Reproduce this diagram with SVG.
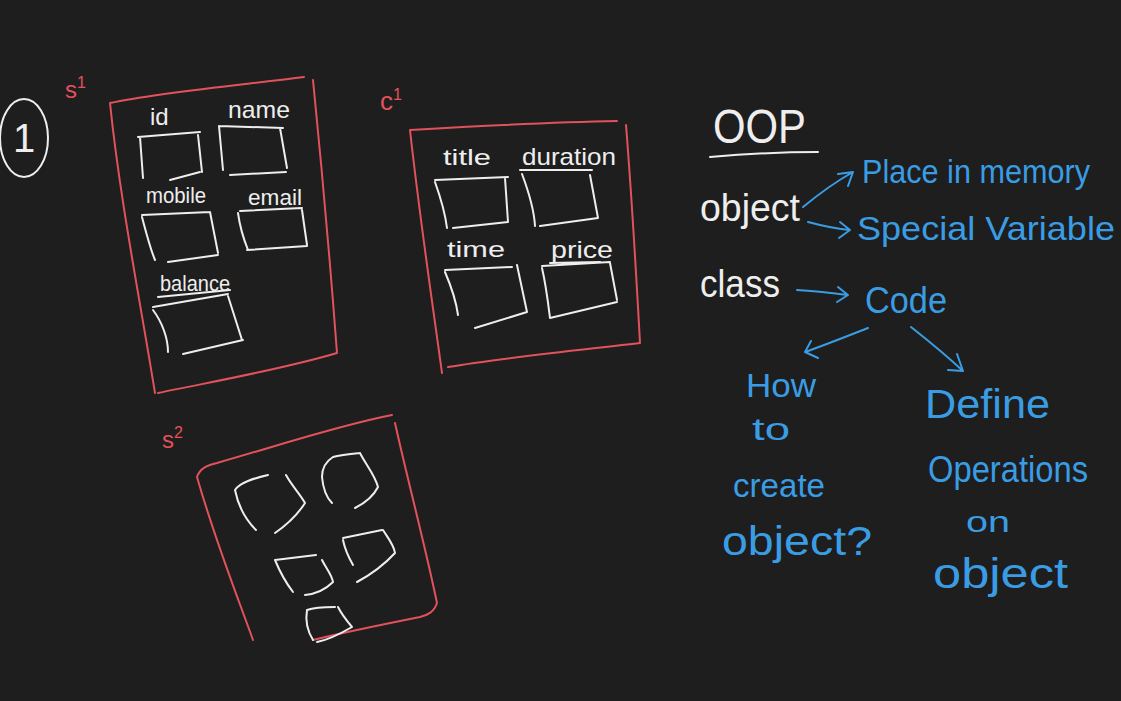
<svg xmlns="http://www.w3.org/2000/svg" width="1121" height="701" viewBox="0 0 1121 701">
<style>
.w{fill:none;stroke:#eeeeee;stroke-width:2;stroke-linecap:round;stroke-linejoin:round}
.r{fill:none;stroke:#e2525c;stroke-width:2;stroke-linecap:round;stroke-linejoin:round}
.b{fill:none;stroke:#3a9de4;stroke-width:2;stroke-linecap:round;stroke-linejoin:round}
.tw{fill:#eeeeee;font-family:"Liberation Sans",Arial,sans-serif}
.tr{fill:#e2525c;font-family:"Liberation Sans",Arial,sans-serif}
.tb{fill:#3a9de4;font-family:"Liberation Sans",Arial,sans-serif}
</style>
<rect width="1121" height="701" fill="#1e1e1e"/>

<g id="mark-1">
<ellipse class="w" cx="24" cy="138" rx="24" ry="39"/>
<text class="tw" x="24" y="152" font-size="40" text-anchor="middle">1</text>
</g>

<g id="s1">
<text class="tr" x="65" y="98" font-size="24">s<tspan font-size="16" dy="-10">1</tspan></text>
<path class="r" d="M110,103 C160,92 250,84 304,77 M313,80 C322,170 330,260 337,353 C280,370 210,382 158,393 M110,103 C120,200 140,300 155,393"/>
<text class="tw" x="150" y="125" font-size="24">id</text>
<path class="w" d="M138,137 L200,132 M140,137 L143,178 M198,135 L202,172 M170,180 L200,172"/>
<text class="tw" x="228" y="118" font-size="24" textLength="62" lengthAdjust="spacingAndGlyphs">name</text>
<path class="w" d="M219,126 L283,128 M219,126 L223,170 M280,128 L287,168 M230,175 L286,172"/>
<text class="tw" x="146" y="203" font-size="22" textLength="60" lengthAdjust="spacingAndGlyphs">mobile</text>
<path class="w" d="M142,215 L210,212 M142,217 C146,232 150,248 155,260 M210,212 L218,253 M168,262 L218,255"/>
<text class="tw" x="248" y="205" font-size="22" textLength="54" lengthAdjust="spacingAndGlyphs">email</text>
<path class="w" d="M240,211 L302,208 M238,213 C240,228 244,240 248,250 M302,210 L307,245 M247,250 L307,246"/>
<text class="tw" x="160" y="291" font-size="22" textLength="70" lengthAdjust="spacingAndGlyphs">balance</text>
<path class="w" d="M158,297 L230,290 M153,307 L228,294 M153,310 C162,322 168,338 168,352 M228,296 L242,340 M183,354 L243,340"/>
</g>

<g id="c1">
<text class="tr" x="380" y="110" font-size="26">c<tspan font-size="16" dy="-10">1</tspan></text>
<path class="r" d="M410,130 C480,126 560,122 617,121 M626,125 C632,200 636,270 640,343 C580,350 500,358 448,367 M410,130 C420,220 432,300 442,373"/>
<text class="tw" x="443" y="165" font-size="22" textLength="48" lengthAdjust="spacingAndGlyphs">title</text>
<path class="w" d="M435,180 L508,177 M435,182 C440,196 445,212 447,228 M505,178 L508,222 M453,228 L508,222"/>
<text class="tw" x="522" y="165" font-size="24" textLength="94" lengthAdjust="spacingAndGlyphs">duration</text>
<path class="w" d="M520,170 L592,170 M522,174 C528,190 534,208 535,226 M590,175 L598,218 M540,226 L598,218"/>
<text class="tw" x="447" y="257" font-size="22" textLength="58" lengthAdjust="spacingAndGlyphs">time</text>
<path class="w" d="M445,270 L512,267 M445,272 C451,286 456,300 458,315 M517,265 L527,312 M475,328 L527,312"/>
<text class="tw" x="551" y="258" font-size="24" textLength="62" lengthAdjust="spacingAndGlyphs">price</text>
<path class="w" d="M550,263 L600,262 M542,266 L610,262 M542,268 C546,285 548,302 550,318 M610,263 L617,300 M550,318 L617,302"/>
</g>

<g id="s2">
<text class="tr" x="162" y="448" font-size="24">s<tspan font-size="16" dy="-10">2</tspan></text>
<path class="r" d="M197,477 C200,468 208,465 217,463 C280,445 340,425 392,415 M395,423 C410,490 425,545 437,603 C434,612 428,615 420,617 C380,625 345,632 313,640 M197,477 C215,540 235,590 253,640"/>
<path class="w" d="M268,475 C255,478 240,482 235,490 C238,505 246,520 256,530 M286,475 C292,486 300,494 305,503 C298,514 288,524 275,533"/>
<path class="w" d="M360,453 C350,454 340,455 333,457 C325,462 322,470 322,477 C323,488 326,497 332,503 M360,453 C366,465 375,475 378,487 C373,497 365,503 355,508"/>
<path class="w" d="M275,560 L316,555 M275,560 C280,572 286,583 293,592 M322,560 C326,568 332,575 333,582 C325,590 315,594 305,595"/>
<path class="w" d="M343,538 L382,530 M343,540 C345,550 349,558 353,565 M383,530 C388,538 394,545 395,553 C383,566 370,575 357,582"/>
<path class="w" d="M335,607 C325,607 315,607 307,610 C305,622 308,632 313,640 M338,607 C342,615 347,621 352,627 C340,634 328,640 317,642"/>
</g>

<g id="oop">
<text class="tw" x="713" y="143" font-size="48" textLength="93" lengthAdjust="spacingAndGlyphs">OOP</text>
<path class="w" d="M710,157 C745,154 785,152 818,152"/>
</g>

<g id="object-node">
<text class="tw" x="700" y="221" font-size="38" textLength="100" lengthAdjust="spacingAndGlyphs">object</text>
</g>
<g id="class-node">
<text class="tw" x="700" y="297" font-size="38" textLength="80" lengthAdjust="spacingAndGlyphs">class</text>
</g>
<g id="place-node">
<text class="tb" x="862" y="183" font-size="34" textLength="228" lengthAdjust="spacingAndGlyphs">Place in memory</text>
</g>
<g id="special-node">
<text class="tb" x="857" y="240" font-size="34" textLength="258" lengthAdjust="spacingAndGlyphs">Special Variable</text>
</g>
<g id="code-node">
<text class="tb" x="865" y="313" font-size="36" textLength="82" lengthAdjust="spacingAndGlyphs">Code</text>
</g>
<g id="how-node">
<text class="tb" x="746" y="397" font-size="34" textLength="70" lengthAdjust="spacingAndGlyphs">How</text>
<text class="tb" x="752" y="440" font-size="32" textLength="38" lengthAdjust="spacingAndGlyphs">to</text>
<text class="tb" x="733" y="497" font-size="34" textLength="92" lengthAdjust="spacingAndGlyphs">create</text>
<text class="tb" x="722" y="555" font-size="40" textLength="150" lengthAdjust="spacingAndGlyphs">object?</text>
</g>
<g id="define-node">
<text class="tb" x="925" y="418" font-size="40" textLength="125" lengthAdjust="spacingAndGlyphs">Define</text>
<text class="tb" x="928" y="482" font-size="36" textLength="160" lengthAdjust="spacingAndGlyphs">Operations</text>
<text class="tb" x="966" y="532" font-size="30" textLength="44" lengthAdjust="spacingAndGlyphs">on</text>
<text class="tb" x="933" y="588" font-size="42" textLength="135" lengthAdjust="spacingAndGlyphs">object</text>
</g>

<g id="connectors">
<path class="b" d="M803,207 C820,193 837,181 853,172 M838,174 L853,172 L848,186"/>
<path class="b" d="M808,222 C823,226 837,229 850,230 M840,222 L850,230 L839,238"/>
<path class="b" d="M797,290 C815,291 832,293 848,295 M838,287 L848,295 L837,302"/>
<path class="b" d="M868,328 C845,337 825,345 805,352 M811,341 L805,352 L818,358"/>
<path class="b" d="M911,327 C930,342 948,357 963,371 M948,370 L963,371 L957,354"/>
</g>
</svg>
